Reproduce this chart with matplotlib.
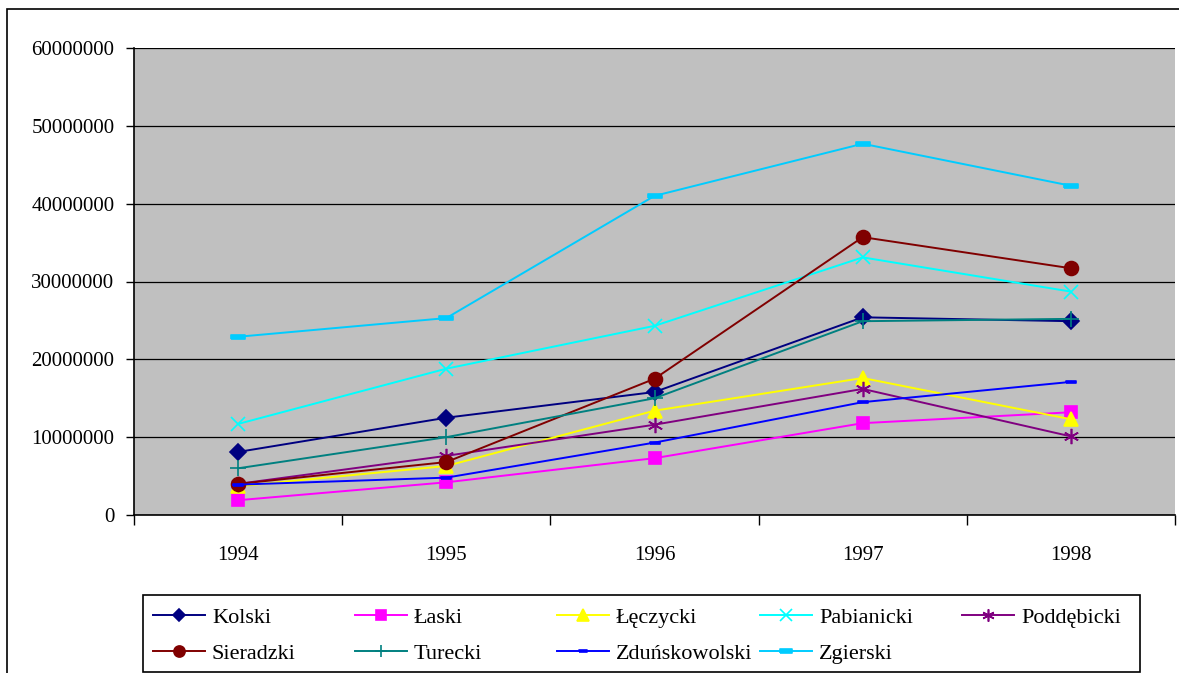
import matplotlib.pyplot as plt
import numpy as np
from matplotlib.patches import Rectangle
from matplotlib.ticker import FuncFormatter

plt.rcParams['font.family'] = ['Liberation Serif', 'DejaVu Serif']

# Data
years = ['1994', '1995', '1996', '1997', '1998']
kolski = [8.1e6, 12.5e6, 15.8e6, 25.4e6, 24.9e6]
laski = [1.9e6, 4.2e6, 7.3e6, 11.8e6, 13.2e6]
leczycki = [3.7e6, 6.3e6, 13.4e6, 17.6e6, 12.3e6]
pabianicki = [11.7e6, 18.8e6, 24.3e6, 33.1e6, 28.7e6]
poddebicki = [4.0e6, 7.6e6, 11.6e6, 16.2e6, 10.1e6]
sieradzki = [4.0e6, 6.8e6, 17.5e6, 35.7e6, 31.7e6]
turecki = [6.0e6, 10.0e6, 15.0e6, 24.9e6, 25.2e6]
zdunskowolski = [3.9e6, 4.8e6, 9.3e6, 14.5e6, 17.1e6]
zgierski = [22.9e6, 25.3e6, 41.0e6, 47.7e6, 42.3e6]

bar_marker = [(-1, -0.3), (1, -0.3), (1, 0.3), (-1, 0.3), (-1, -0.3)]

series = [
    ('Kolski', kolski, '#000080', 'D', 8),
    ('Łaski', laski, '#FF00FF', 's', 9),
    ('Łęczycki', leczycki, '#FFFF00', '^', 10),
    ('Pabianicki', pabianicki, '#00FFFF', 'x', 10),
    ('Poddębicki', poddebicki, '#800080', (6, 2, 0), 11),
    ('Sieradzki', sieradzki, '#800000', 'o', 10),
    ('Turecki', turecki, '#008080', '+', 11),
    ('Zduńskowolski', zdunskowolski, '#0000FF', bar_marker, 7),
    ('Zgierski', zgierski, '#00CCFF', bar_marker, 10),
]

W, H = 1179, 673
fig = plt.figure(figsize=(W / 100, H / 100), dpi=100)
fig.patches.append(Rectangle((7 / W, -0.05), 1.1, (H - 9) / H + 0.05,
                             transform=fig.transFigure, fill=False,
                             edgecolor='black', linewidth=1.2))

ax = fig.add_axes([134 / W, (H - 515) / H, 1041 / W, 467 / H])
ax.set_facecolor('#C0C0C0')

x = np.arange(len(years))
lines = {}
for name, vals, color, marker, ms in series:
    ln, = ax.plot(x, vals, color=color, marker=marker, markersize=ms,
                  markerfacecolor=color, markeredgecolor=color,
                  markeredgewidth=1.2, linewidth=1.4, label=name)
    lines[name] = ln

ax.set_xlim(-0.5, 4.5)
ax.set_ylim(0, 60e6)
ax.set_yticks(np.arange(0, 60e6 + 1, 10e6))
ax.yaxis.set_major_formatter(FuncFormatter(lambda v, p: '%d' % v))
ax.grid(axis='y', color='black', linewidth=0.9)
ax.set_axisbelow(True)

ax.set_xticks(x)
ax.set_xticklabels(years)
ax.set_xticks(np.arange(-0.5, 5, 1), minor=True)
ax.tick_params(axis='x', which='major', length=0, pad=22, labelsize=15)
ax.tick_params(axis='x', which='minor', length=7, width=1, direction='out')
ax.tick_params(axis='y', length=6, width=1, direction='out', pad=8, labelsize=15)

for side in ['top', 'right']:
    ax.spines[side].set_visible(False)
for side in ['left', 'bottom']:
    ax.spines[side].set_color('black')
    ax.spines[side].set_linewidth(1.2)

# legend: 5 equal columns, filled row by row, inside one frame
fig.patches.append(Rectangle((143 / W, (H - 672) / H), 997 / W, 77 / H,
                             transform=fig.transFigure, fill=False,
                             edgecolor='black', linewidth=1.2))
columns = [['Kolski', 'Sieradzki'], ['Łaski', 'Turecki'],
           ['Łęczycki', 'Zduńskowolski'], ['Pabianicki', 'Zgierski'],
           ['Poddębicki']]
col_x = [153, 355, 557, 760, 962]
for cx, names in zip(col_x, columns):
    leg = fig.legend([lines[n] for n in names], names, loc='upper left',
                     bbox_to_anchor=(cx / W, (H - 607) / H), fontsize=16,
                     frameon=False, handlelength=2.35, handletextpad=0.3,
                     borderpad=0, borderaxespad=0, labelspacing=0.72,
                     markerscale=0.8)

fig.savefig('out.png', dpi=100)
